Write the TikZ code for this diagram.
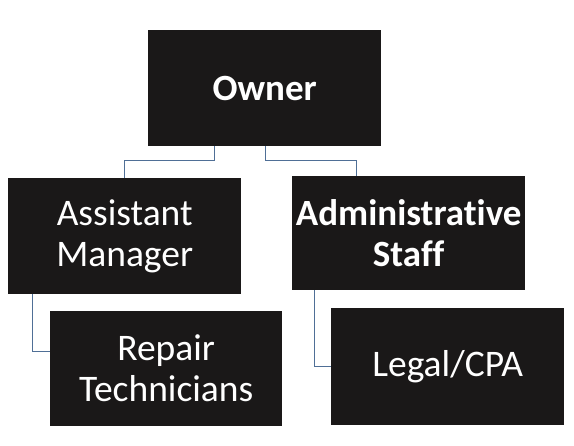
\documentclass[tikz,border=0pt]{standalone}
\usepackage{fontspec}
\setmainfont{Carlito}[RawFeature={-liga;-dlig;-calt;-clig}]
\usetikzlibrary{calc}
\definecolor{boxfill}{RGB}{26,24,24}
\definecolor{connblue}{RGB}{79,111,150}
\tikzset{
  orgbox/.style={fill=boxfill, draw=none, anchor=north west, minimum width=233pt, minimum height=116pt, inner sep=0pt, text=white, align=center, font=\fontsize{37.5}{41}\selectfont},
  boldbox/.style={orgbox, font=\fontsize{37}{41}\selectfont\bfseries},
  conn/.style={draw=connblue, line width=1pt}
}
\begin{document}
\begin{tikzpicture}[x=1pt,y=1pt]
\useasboundingbox[fill=white] (0,0) rectangle (574,-446);
\node[boldbox] (own) at (148,-30) {Owner};
\node[orgbox] (am) at (8,-178) {Assistant\\Manager};
\node[boldbox, minimum height=114pt] (adm) at (292,-176) {Administrat\kern0pt ive\\Staff};
\node[orgbox, minimum width=232pt, minimum height=115pt] (rep) at (50,-311) {Repair\\Technicians};
\node[orgbox, minimum height=117pt] (leg) at (331,-308) {Legal/CPA};
\draw[conn] ([xshift=66pt]own.south west) -- ++(0,-14) -| (am.north);
\draw[conn] ([xshift=117pt]own.south west) -- ++(0,-14) -| ([xshift=-52.5pt]adm.north);
\draw[conn] ([xshift=24pt]am.south west) |- ([yshift=17.5pt]rep.west);
\draw[conn] ([xshift=22pt]adm.south west) |- (leg.west);
\end{tikzpicture}
\end{document}
